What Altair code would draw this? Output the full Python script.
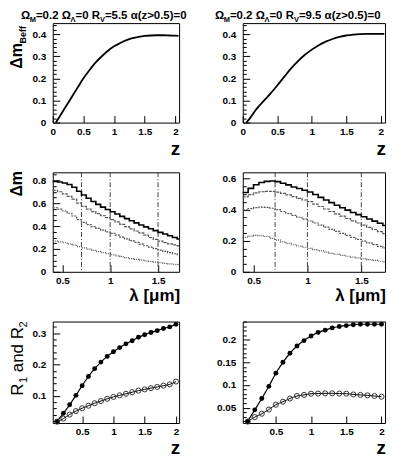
import altair as alt
import pandas as pd

FONT = "Liberation Sans"

# ---------------- data ----------------
# top row: Delta m_Beff versus z
top_z = [0.05, 0.1, 0.2, 0.3, 0.4, 0.5, 0.6, 0.7, 0.8, 0.9, 1.0, 1.1, 1.2, 1.3,
         1.4, 1.5, 1.6, 1.7, 1.8, 1.9, 2.0, 2.05]
top_left_dm = [0.0, 0.022, 0.067, 0.111, 0.156, 0.200, 0.238, 0.272, 0.300, 0.325,
               0.345, 0.360, 0.373, 0.382, 0.388, 0.392, 0.394, 0.395, 0.395, 0.394,
               0.393, 0.392]
top_right_dm = [0.0, 0.018, 0.062, 0.097, 0.131, 0.168, 0.207, 0.245, 0.278, 0.307,
                0.330, 0.350, 0.366, 0.378, 0.388, 0.394, 0.398, 0.400, 0.401, 0.401,
                0.401, 0.401]
top_titles = ["5.5", "9.5"]

# middle row: Delta m versus lambda (histogram bins, left edges)
lam = [0.40, 0.45, 0.50, 0.55, 0.60, 0.65, 0.70, 0.75, 0.80, 0.85, 0.90, 0.95,
       1.00, 1.05, 1.10, 1.15, 1.20, 1.25, 1.30, 1.35, 1.40, 1.45, 1.50, 1.55,
       1.60, 1.65, 1.70]
lam_end = 1.72
ml_1 = [0.790, 0.785, 0.777, 0.763, 0.740, 0.705, 0.672, 0.643, 0.615, 0.590, 0.566,
        0.545, 0.525, 0.505, 0.485, 0.465, 0.446, 0.428, 0.410, 0.393, 0.376, 0.360,
        0.345, 0.330, 0.315, 0.300, 0.287]
ml_2 = [0.712, 0.700, 0.682, 0.660, 0.635, 0.600, 0.572, 0.548, 0.527, 0.508, 0.490,
        0.473, 0.456, 0.436, 0.415, 0.395, 0.375, 0.357, 0.340, 0.320, 0.300, 0.283,
        0.268, 0.255, 0.245, 0.235, 0.226]
ml_3 = [0.560, 0.548, 0.532, 0.512, 0.488, 0.457, 0.432, 0.413, 0.395, 0.379, 0.364,
        0.350, 0.336, 0.320, 0.304, 0.288, 0.272, 0.257, 0.242, 0.228, 0.215, 0.202,
        0.190, 0.179, 0.168, 0.158, 0.150]
ml_4 = [0.268, 0.262, 0.254, 0.244, 0.233, 0.220, 0.210, 0.199, 0.188, 0.177, 0.167,
        0.158, 0.149, 0.140, 0.132, 0.124, 0.116, 0.109, 0.102, 0.096, 0.090, 0.084,
        0.079, 0.074, 0.070, 0.066, 0.062]
mr_1 = [0.510, 0.537, 0.560, 0.575, 0.582, 0.584, 0.580, 0.570, 0.559, 0.546, 0.536,
        0.525, 0.513, 0.497, 0.479, 0.462, 0.445, 0.428, 0.412, 0.397, 0.382, 0.368,
        0.354, 0.340, 0.326, 0.312, 0.298]
mr_2 = [0.482, 0.497, 0.508, 0.515, 0.518, 0.517, 0.513, 0.505, 0.495, 0.484, 0.473,
        0.462, 0.451, 0.436, 0.420, 0.404, 0.388, 0.373, 0.358, 0.343, 0.328, 0.314,
        0.300, 0.286, 0.272, 0.258, 0.245]
mr_3 = [0.398, 0.407, 0.413, 0.416, 0.415, 0.409, 0.400, 0.388, 0.375, 0.363, 0.351,
        0.339, 0.327, 0.314, 0.300, 0.287, 0.273, 0.260, 0.247, 0.234, 0.222, 0.209,
        0.197, 0.186, 0.175, 0.164, 0.154]
mr_4 = [0.222, 0.230, 0.234, 0.233, 0.227, 0.215, 0.204, 0.193, 0.183, 0.174, 0.166,
        0.158, 0.151, 0.143, 0.135, 0.127, 0.119, 0.113, 0.106, 0.100, 0.094, 0.089,
        0.083, 0.078, 0.073, 0.068, 0.064]
lam_marks = [0.7, 1.0, 1.5]

# bottom row: R1 and R2 versus z
bz = [0.1, 0.2, 0.3, 0.4, 0.5, 0.6, 0.7, 0.8, 0.9, 1.0, 1.1, 1.2, 1.3, 1.4, 1.5,
      1.6, 1.7, 1.8, 1.9, 2.0]
bl_r1 = [0.020, 0.045, 0.072, 0.102, 0.133, 0.162, 0.187, 0.208, 0.226, 0.241, 0.254,
         0.266, 0.276, 0.287, 0.295, 0.302, 0.308, 0.315, 0.320, 0.328]
bl_r2 = [0.018, 0.028, 0.041, 0.052, 0.061, 0.069, 0.077, 0.084, 0.091, 0.097, 0.102,
         0.107, 0.112, 0.117, 0.121, 0.125, 0.129, 0.133, 0.137, 0.146]
br_r1 = [0.020, 0.045, 0.070, 0.097, 0.126, 0.150, 0.170, 0.186, 0.198, 0.208, 0.216,
         0.221, 0.226, 0.229, 0.231, 0.233, 0.234, 0.234, 0.234, 0.234]
br_r2 = [0.019, 0.029, 0.0365, 0.0457, 0.0564, 0.063, 0.070, 0.0757, 0.078, 0.0807,
         0.081, 0.0815, 0.0815, 0.081, 0.0807, 0.079, 0.078, 0.077, 0.0757, 0.074]

# ---------------- helpers ----------------
W = {'Ω': 0.768, 'M': 0.833, 'Λ': 0.667, 'V': 0.667, 'R': 0.722, '=': 0.584,
     '.': 0.278, ' ': 0.278, 'α': 0.615, '(': 0.333, ')': 0.333, 'z': 0.5,
     '>': 0.584, 'B': 0.722, 'e': 0.556, 'f': 0.333, 'Δ': 0.7, 'm': 0.889,
     'a': 0.556, 'n': 0.611, 'd': 0.611}
for d in "0123456789":
    W[d] = 0.556
W_REG = dict(W, n=0.556, d=0.556)


def seg_width(text, size, weight="bold"):
    table = W if weight == "bold" else W_REG
    return sum(table.get(ch, 0.6) for ch in text) * size


def text_layer(text, x, y, size, weight="bold", angle=0, align="left"):
    return alt.Chart(alt.Data(values=[{"a": 1}])).mark_text(
        text=text, font=FONT, fontSize=size, fontWeight=weight, angle=angle,
        align=align, baseline="alphabetic", color="black"
    ).encode(x=alt.value(x), y=alt.value(y))


def hsegs(segs, x0, y0):
    out, cx = [], x0
    for txt, size, dy in segs:
        out.append(text_layer(txt, cx, y0 + dy, size))
        cx += seg_width(txt, size)
    return out


def vsegs(segs, x0, y_end, weight="bold"):
    # segs: (text, size, dx, gap-before)
    total = sum(seg_width(t, s, weight) + g for t, s, _, g in segs)
    out, cy = [], y_end + total
    for txt, size, dx, gap in segs:
        cy -= gap
        out.append(text_layer(txt, x0 + dx, cy, size, weight, angle=270))
        cy -= seg_width(txt, size, weight)
    return out


def tick_vals(lo, hi, step):
    vals, i = [], 0
    while True:
        v = round(i * step, 6)
        if v > hi + 1e-9:
            break
        if v >= lo - 1e-9:
            vals.append(v)
        i += 1
    return vals


def make_axis(lo, hi, major, minor, pad):
    test = f"abs(datum.value/{major} - round(datum.value/{major})) < 0.001"
    return alt.Axis(
        values=tick_vals(lo, hi, minor), title=None, domain=False, grid=False,
        tickSize={"condition": {"test": test, "value": -7}, "value": -3.5},
        tickColor="black", tickWidth=1,
        labelExpr=f"({test}) ? format(datum.value, '~g') : ''",
        labelFont=FONT, labelFontWeight="bold", labelFontSize=10,
        labelColor="black", labelPadding=pad, labelFlush=False,
        labelOverlap=False, labelBound=False)


def sc(lo, hi):
    return alt.Scale(domain=[lo, hi], nice=False, zero=False)


LW, RW = 127, 143
H1, H2, H3 = 100, 100, 102


# ---------------- top row ----------------
def top_panel(vals, tag, w, left):
    df = pd.DataFrame({"z": top_z, "v": vals})
    xs, ys = sc(0, 2.06), sc(0, 0.45)
    line = alt.Chart(df).mark_line(color="black", strokeWidth=1.8,
                                   interpolate="monotone").encode(
        x=alt.X("z:Q", scale=xs, axis=make_axis(0, 2.06, 0.5, 0.5, 11)),
        y=alt.Y("v:Q", scale=ys, axis=make_axis(0, 0.45, 0.1, 0.02, 14)))
    segs = [("Ω", 11.5, 0), ("M", 7.5, 2.5), ("=0.2 Ω", 11.5, 0), ("Λ", 7.5, 2.5),
            ("=0 R", 11.5, 0), ("V", 7.5, 2.5), ("=" + tag + " α(z>0.5)=0", 11.5, 0)]
    layers = [line] + hsegs(segs, -32 if left else -28, -4)
    layers.append(text_layer("z", w + 1, H1 + 33, 19, align="right"))
    if left:
        layers += vsegs([("Δm", 16, 0, 0), ("Beff", 9, 4, 0)], -31, 3)
    return alt.layer(*layers).properties(width=w, height=H1)


# ---------------- middle row ----------------
def mid_panel(curves, ymax, w, left):
    xs, ys = sc(0.4, lam_end), sc(0, ymax)
    xa = make_axis(0.4, lam_end, 0.5, 0.5, 11)
    ya = make_axis(0, ymax, 0.2, 0.05, 14)
    rules = alt.Chart(pd.DataFrame({"lam": lam_marks})).mark_rule(
        color="#444", strokeWidth=1, strokeDash=[5, 2, 1, 2]).encode(
        x=alt.X("lam:Q", scale=xs, axis=xa))
    layers = [rules]
    styles = [("black", 1.6, [1, 0]), ("#555", 1.2, [3, 1]),
              ("#555", 1.2, [2, 1]), ("#555", 1.2, [1, 1])]
    for c, (col, sw, dash) in zip(curves, styles):
        df = pd.DataFrame({"lam": lam + [lam_end], "v": c + [c[-1]]})
        layers.append(alt.Chart(df).mark_line(
            color=col, strokeWidth=sw, strokeDash=dash,
            interpolate="step-after").encode(
            x=alt.X("lam:Q", scale=xs, axis=xa),
            y=alt.Y("v:Q", scale=ys, axis=ya)))
    layers.append(text_layer("λ [μm]", w + 1, H2 + 29, 17, align="right"))
    if left:
        layers += vsegs([("Δm", 16, 0, 0)], -31, -1)
    return alt.layer(*layers).properties(width=w, height=H2)


# ---------------- bottom row ----------------
def bot_panel(r1, r2, ylo, yhi, major, minor, w, left):
    xs, ys = sc(0.03, 2.05), sc(ylo, yhi)
    xa = make_axis(0.03, 2.05, 0.5, 0.5, 11)
    ya = make_axis(ylo, yhi, major, minor, 14)
    d1 = pd.DataFrame({"z": bz, "r": r1})
    d2 = pd.DataFrame({"z": bz, "r": r2})
    enc = dict(x=alt.X("z:Q", scale=xs, axis=xa), y=alt.Y("r:Q", scale=ys, axis=ya))
    l1 = alt.Chart(d1).mark_line(color="black", strokeWidth=1.2,
                                 interpolate="monotone").encode(**enc)
    p1 = alt.Chart(d1).mark_point(filled=True, color="black", size=24,
                                  opacity=1).encode(**enc)
    l2 = alt.Chart(d2).mark_line(color="black", strokeWidth=1,
                                 interpolate="monotone").encode(**enc)
    p2 = alt.Chart(d2).mark_point(filled=False, color="#333", size=26,
                                  strokeWidth=1, opacity=1).encode(**enc)
    layers = [l1, l2, p1, p2]
    layers.append(text_layer("z", w + 1, H3 + 31, 19, align="right"))
    if left:
        sp = 0.278 * 17
        layers += vsegs([("R", 17, 0, 0), ("1", 11, 4, 0.5), ("and R", 17, 0, sp),
                         ("2", 11, 4, -0.5)], -30, 0, weight="normal")
    return alt.layer(*layers).properties(width=w, height=H3)


tl = top_panel(top_left_dm, top_titles[0], LW, True)
tr = top_panel(top_right_dm, top_titles[1], RW, False)
ml = mid_panel([ml_1, ml_2, ml_3, ml_4], 0.87, LW, True)
mr = mid_panel([mr_1, mr_2, mr_3, mr_4], 0.64, RW, False)
bl = bot_panel(bl_r1, bl_r2, 0.014, 0.337, 0.1, 0.02, LW, True)
br = bot_panel(br_r1, br_r2, 0.016, 0.24, 0.05, 0.01, RW, False)

chart = alt.concat(tl, tr, ml, mr, bl, br, columns=2,
                   spacing={"row": 50, "column": 64}, bounds="flush").configure_view(
    stroke="black", strokeWidth=1).properties(padding=0, background="white")

chart.save("out.html", embed_options={"renderer": "svg", "actions": False})
